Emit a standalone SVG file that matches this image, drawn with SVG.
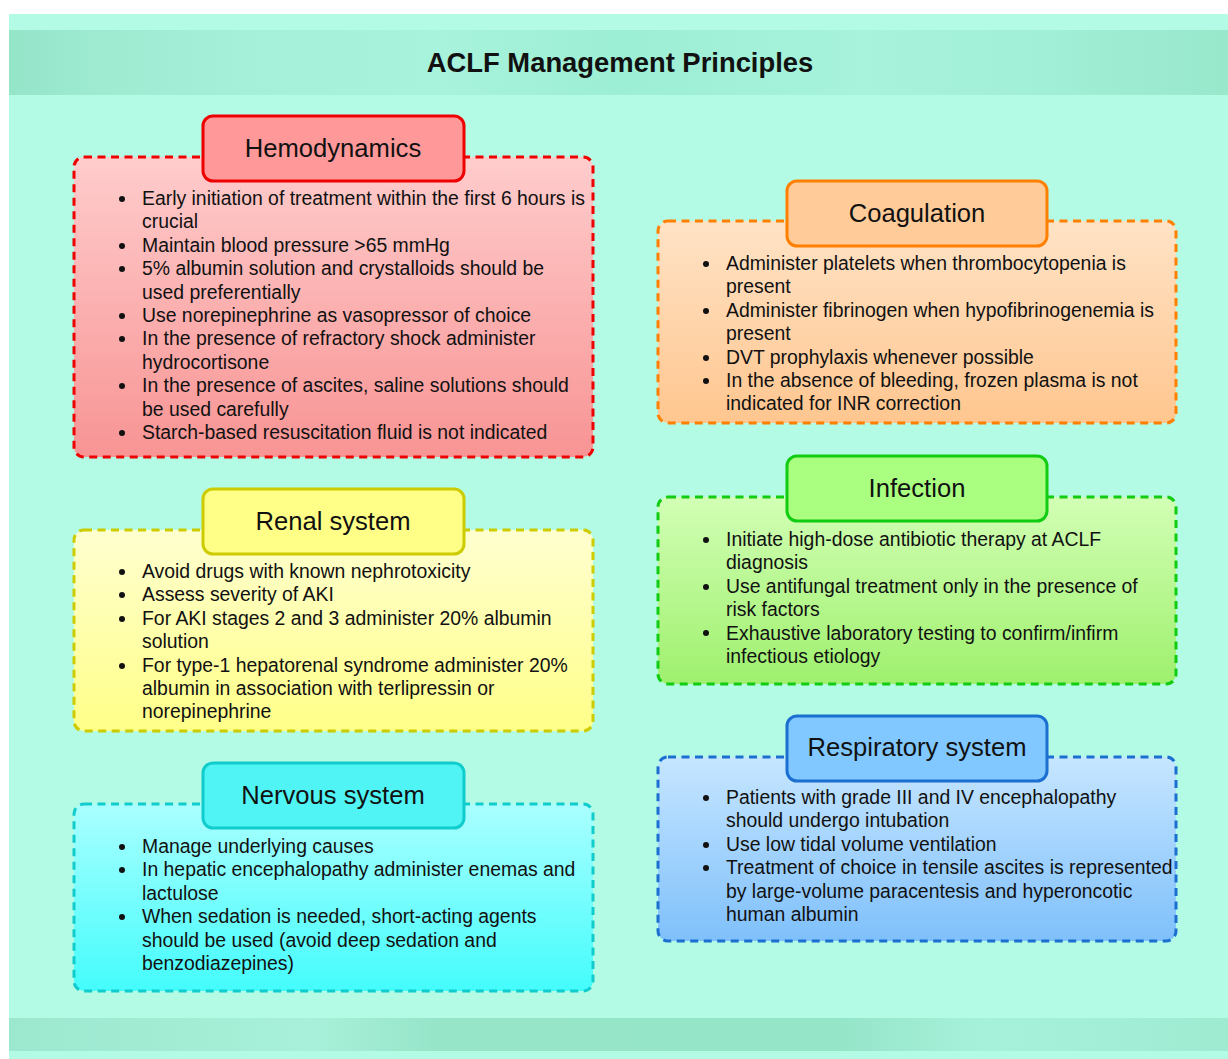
<svg xmlns="http://www.w3.org/2000/svg" width="1228" height="1059" viewBox="0 0 1228 1059">
  <defs>
    <style>
      text { font-family: "Liberation Sans", Arial, Helvetica, sans-serif; fill: #111; }
      .title { font-size: 27.4px; font-weight: bold; text-anchor: middle; }
      .head { font-size: 25.6px; text-anchor: middle; }
      .item { font-size: 19.4px; }
      .panel { stroke-width: 3; stroke-dasharray: 8 5.5; }
      .tab { stroke-width: 3; }
      .dot { fill: #111; }
    </style>
    <linearGradient id="band" x1="0" y1="0" x2="1" y2="0">
      <stop offset="0" stop-color="#95e5c9"/>
      <stop offset="0.08" stop-color="#9eebd2"/>
      <stop offset="0.2" stop-color="#a4f0d9"/>
      <stop offset="0.35" stop-color="#a8f3dc"/>
      <stop offset="0.5" stop-color="#9ceed4"/>
      <stop offset="0.7" stop-color="#a7f3db"/>
      <stop offset="0.85" stop-color="#a1efd6"/>
      <stop offset="1" stop-color="#98e8cc"/>
    </linearGradient>
    <linearGradient id="band2" x1="0" y1="0" x2="1" y2="0">
      <stop offset="0" stop-color="#9ce8cf"/>
      <stop offset="0.25" stop-color="#a8f0d9"/>
      <stop offset="0.35" stop-color="#96e5c9"/>
      <stop offset="0.68" stop-color="#95e5c9"/>
      <stop offset="0.8" stop-color="#a6f1da"/>
      <stop offset="1" stop-color="#9eebd2"/>
    </linearGradient>
    <linearGradient id="gRed" x1="0" y1="0" x2="0" y2="1">
      <stop offset="0" stop-color="#ffcccc"/>
      <stop offset="1" stop-color="#f89494"/>
    </linearGradient>
    <linearGradient id="gOrange" x1="0" y1="0" x2="0" y2="1">
      <stop offset="0" stop-color="#ffe3c6"/>
      <stop offset="1" stop-color="#ffc68f"/>
    </linearGradient>
    <linearGradient id="gYellow" x1="0" y1="0" x2="0" y2="1">
      <stop offset="0" stop-color="#ffffd0"/>
      <stop offset="1" stop-color="#ffff88"/>
    </linearGradient>
    <linearGradient id="gGreen" x1="0" y1="0" x2="0" y2="1">
      <stop offset="0" stop-color="#d2ffb5"/>
      <stop offset="1" stop-color="#9ff06e"/>
    </linearGradient>
    <linearGradient id="gCyan" x1="0" y1="0" x2="0" y2="1">
      <stop offset="0" stop-color="#aaffff"/>
      <stop offset="1" stop-color="#44fcfc"/>
    </linearGradient>
    <linearGradient id="gBlue" x1="0" y1="0" x2="0" y2="1">
      <stop offset="0" stop-color="#c6e6ff"/>
      <stop offset="1" stop-color="#7fc0fb"/>
    </linearGradient>
  </defs>

  <!-- page background -->
  <rect x="0" y="0" width="1228" height="1059" fill="#ffffff"/>
  <rect x="9" y="14" width="1219" height="1045" fill="#b3fbe4"/>
  <rect x="9" y="30" width="1219" height="65" fill="url(#band)"/>
  <rect x="9" y="1018" width="1219" height="33" fill="url(#band2)"/>

  <g id="title">
    <text class="title" x="620" y="72">ACLF Management Principles</text>
  </g>

  <!-- Hemodynamics -->
  <g id="hemodynamics">
    <rect class="panel" x="74" y="157" width="519" height="300" rx="10" fill="url(#gRed)" stroke="#ee0000"/>
    <rect class="tab" x="203" y="116" width="261" height="65" rx="10" fill="#ff9999" stroke="#ee0000"/>
    <text class="head" x="333" y="157">Hemodynamics</text>
    <g class="dot">
      <circle cx="122" cy="199" r="3"/>
      <circle cx="122" cy="246" r="3"/>
      <circle cx="122" cy="269" r="3"/>
      <circle cx="122" cy="316" r="3"/>
      <circle cx="122" cy="339" r="3"/>
      <circle cx="122" cy="386" r="3"/>
      <circle cx="122" cy="433" r="3"/>
    </g>
    <text class="item">
      <tspan x="142" y="205">Early initiation of treatment within the first 6 hours is</tspan>
      <tspan x="142" y="228.4">crucial</tspan>
      <tspan x="142" y="251.8">Maintain blood pressure &gt;65 mmHg</tspan>
      <tspan x="142" y="275.2">5% albumin solution and crystalloids should be</tspan>
      <tspan x="142" y="298.6">used preferentially</tspan>
      <tspan x="142" y="322">Use norepinephrine as vasopressor of choice</tspan>
      <tspan x="142" y="345.4">In the presence of refractory shock administer</tspan>
      <tspan x="142" y="368.8">hydrocortisone</tspan>
      <tspan x="142" y="392.2">In the presence of ascites, saline solutions should</tspan>
      <tspan x="142" y="415.6">be used carefully</tspan>
      <tspan x="142" y="439">Starch-based resuscitation fluid is not indicated</tspan>
    </text>
  </g>

  <!-- Coagulation -->
  <g id="coagulation">
    <rect class="panel" x="658" y="221" width="518" height="202" rx="10" fill="url(#gOrange)" stroke="#ff8000"/>
    <rect class="tab" x="787" y="181" width="260" height="65" rx="10" fill="#ffcc99" stroke="#ff8000"/>
    <text class="head" x="917" y="222">Coagulation</text>
    <g class="dot">
      <circle cx="706" cy="264" r="3"/>
      <circle cx="706" cy="311" r="3"/>
      <circle cx="706" cy="358" r="3"/>
      <circle cx="706" cy="381" r="3"/>
    </g>
    <text class="item">
      <tspan x="726" y="270">Administer platelets when thrombocytopenia is</tspan>
      <tspan x="726" y="293.4">present</tspan>
      <tspan x="726" y="316.8">Administer fibrinogen when hypofibrinogenemia is</tspan>
      <tspan x="726" y="340.2">present</tspan>
      <tspan x="726" y="363.6">DVT prophylaxis whenever possible</tspan>
      <tspan x="726" y="387">In the absence of bleeding, frozen plasma is not</tspan>
      <tspan x="726" y="410.4">indicated for INR correction</tspan>
    </text>
  </g>

  <!-- Renal system -->
  <g id="renal-system">
    <rect class="panel" x="74" y="530" width="519" height="201" rx="10" fill="url(#gYellow)" stroke="#cccc00"/>
    <rect class="tab" x="203" y="489" width="261" height="65" rx="10" fill="#ffff88" stroke="#cccc00"/>
    <text class="head" x="333" y="530">Renal system</text>
    <g class="dot">
      <circle cx="122" cy="572" r="3"/>
      <circle cx="122" cy="595" r="3"/>
      <circle cx="122" cy="619" r="3"/>
      <circle cx="122" cy="666" r="3"/>
    </g>
    <text class="item">
      <tspan x="142" y="578">Avoid drugs with known nephrotoxicity</tspan>
      <tspan x="142" y="601.4">Assess severity of AKI</tspan>
      <tspan x="142" y="624.8">For AKI stages 2 and 3 administer 20% albumin</tspan>
      <tspan x="142" y="648.2">solution</tspan>
      <tspan x="142" y="671.6">For type-1 hepatorenal syndrome administer 20%</tspan>
      <tspan x="142" y="695">albumin in association with terlipressin or</tspan>
      <tspan x="142" y="718.4">norepinephrine</tspan>
    </text>
  </g>

  <!-- Infection -->
  <g id="infection">
    <rect class="panel" x="658" y="497" width="518" height="187" rx="10" fill="url(#gGreen)" stroke="#11cc11"/>
    <rect class="tab" x="787" y="456" width="260" height="65" rx="10" fill="#aaff80" stroke="#11cc11"/>
    <text class="head" x="917" y="497">Infection</text>
    <g class="dot">
      <circle cx="706" cy="540" r="3"/>
      <circle cx="706" cy="587" r="3"/>
      <circle cx="706" cy="633" r="3"/>
    </g>
    <text class="item">
      <tspan x="726" y="546">Initiate high-dose antibiotic therapy at ACLF</tspan>
      <tspan x="726" y="569.4">diagnosis</tspan>
      <tspan x="726" y="592.8">Use antifungal treatment only in the presence of</tspan>
      <tspan x="726" y="616.2">risk factors</tspan>
      <tspan x="726" y="639.6">Exhaustive laboratory testing to confirm/infirm</tspan>
      <tspan x="726" y="663">infectious etiology</tspan>
    </text>
  </g>

  <!-- Nervous system -->
  <g id="nervous-system">
    <rect class="panel" x="74" y="804" width="519" height="187" rx="10" fill="url(#gCyan)" stroke="#11cccc"/>
    <rect class="tab" x="203" y="763" width="261" height="65" rx="10" fill="#50f4f4" stroke="#11cccc"/>
    <text class="head" x="333" y="804">Nervous system</text>
    <g class="dot">
      <circle cx="122" cy="847" r="3"/>
      <circle cx="122" cy="870" r="3"/>
      <circle cx="122" cy="917" r="3"/>
    </g>
    <text class="item">
      <tspan x="142" y="853">Manage underlying causes</tspan>
      <tspan x="142" y="876.4">In hepatic encephalopathy administer enemas and</tspan>
      <tspan x="142" y="899.8">lactulose</tspan>
      <tspan x="142" y="923.2">When sedation is needed, short-acting agents</tspan>
      <tspan x="142" y="946.6">should be used (avoid deep sedation and</tspan>
      <tspan x="142" y="970">benzodiazepines)</tspan>
    </text>
  </g>

  <!-- Respiratory system -->
  <g id="respiratory-system">
    <rect class="panel" x="658" y="757" width="518" height="184" rx="10" fill="url(#gBlue)" stroke="#1a6fd0"/>
    <rect class="tab" x="787" y="716" width="260" height="65" rx="10" fill="#80c8ff" stroke="#1a6fd0"/>
    <text class="head" x="917" y="756">Respiratory system</text>
    <g class="dot">
      <circle cx="706" cy="798" r="3"/>
      <circle cx="706" cy="845" r="3"/>
      <circle cx="706" cy="868" r="3"/>
    </g>
    <text class="item">
      <tspan x="726" y="804">Patients with grade III and IV encephalopathy</tspan>
      <tspan x="726" y="827.4">should undergo intubation</tspan>
      <tspan x="726" y="850.8">Use low tidal volume ventilation</tspan>
      <tspan x="726" y="874.2">Treatment of choice in tensile ascites is represented</tspan>
      <tspan x="726" y="897.6">by large-volume paracentesis and hyperoncotic</tspan>
      <tspan x="726" y="921">human albumin</tspan>
    </text>
  </g>
</svg>
